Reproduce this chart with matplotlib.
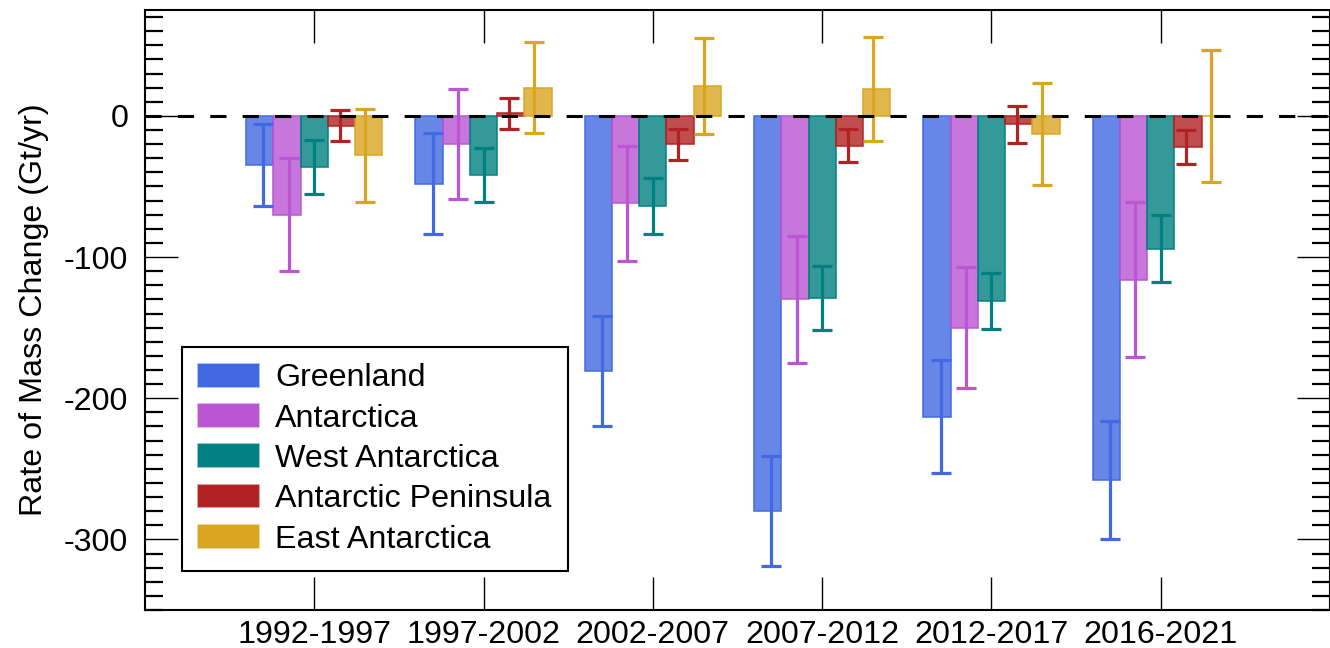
import matplotlib
matplotlib.use("Agg")
import matplotlib.pyplot as plt
from matplotlib.patches import Patch
from matplotlib.colors import to_rgba
from matplotlib.ticker import MultipleLocator
import numpy as np

plt.rcParams['font.family'] = ['Liberation Sans', 'DejaVu Sans']

# ─── DATA ───────────────────────────────────────────────────────────────────
periods = ['1992-1997', '1997-2002', '2002-2007', '2007-2012', '2012-2017', '2016-2021']
regions = ['Greenland', 'Antarctica', 'West Antarctica', 'Antarctic Peninsula', 'East Antarctica']

greenland      = [-35, -48, -181, -280, -213, -258]
greenland_err  = [29, 36, 39, 39, 40, 42]
antarctica     = [-70, -20, -62, -130, -150, -116]
antarctica_err = [40, 39, 41, 45, 43, 55]
west           = [-36, -42, -64, -129, -131, -94]
west_err       = [19, 19, 20, 23, 20, 24]
peninsula      = [-7, 2, -20, -21, -6, -22]
peninsula_err  = [11, 11, 11, 12, 13, 12]
east           = [-28, 20, 21, 19, -13, 0]
east_err       = [33, 32, 34, 37, 36, 47]

values = [greenland, antarctica, west, peninsula, east]
errors = [greenland_err, antarctica_err, west_err, peninsula_err, east_err]
colors = ['#4169E1', '#BA55D3', '#008080', '#B22222', '#DAA520']

# ─── PLOT ───────────────────────────────────────────────────────────────────
fig = plt.figure(figsize=(13.3, 6.48), dpi=100)
ax = fig.add_axes([0.109, 0.0586, 0.891, 0.926])

x = np.arange(len(periods))
bar_w = 0.161
err_step = 0.15

for i, (vals, errs, c) in enumerate(zip(values, errors, colors)):
    ax.bar(x + (i - 2) * bar_w, vals, width=bar_w,
           facecolor=to_rgba(c, 0.8), edgecolor=to_rgba(c, 0.9), linewidth=1.2, zorder=2)
    ax.errorbar(x + (i - 2) * err_step, vals, yerr=errs, fmt='none', ecolor=c,
                elinewidth=2.3, capsize=7.2, capthick=2.3, zorder=3)

ax.axhline(0, color='black', linewidth=2.2, linestyle=(0, (5.3, 5.3)), zorder=5)

ax.set_xlim(-1, 6)
ax.set_ylim(-350, 75)
ax.set_xticks(x)
ax.set_xticklabels(periods)
ax.yaxis.set_minor_locator(MultipleLocator(10))
ax.set_yticks([0, -100, -200, -300])
ax.set_yticklabels(['0', '-100', '-200', '-300'])

ax.tick_params(axis='both', which='major', direction='in', length=24, width=1.0,
               labelsize=23.2, top=True, right=True)
ax.tick_params(axis='y', which='major', pad=12)
ax.tick_params(axis='x', which='major', pad=7)
ax.tick_params(axis='y', which='minor', direction='in', length=13, width=1.6,
               left=True, right=True)
for s in ax.spines.values():
    s.set_linewidth(1.5)

ax.set_ylabel('Rate of Mass Change (Gt/yr)', fontsize=23.2, labelpad=11)

handles = [Patch(facecolor=c, edgecolor=to_rgba(c, 0.5), linewidth=1.2) for c in colors]
leg = ax.legend(handles, regions, loc='upper left', bbox_to_anchor=(0.031, 0.438),
                borderaxespad=0, fontsize=23.2, fancybox=False, framealpha=1,
                edgecolor='black', handlelength=1.9, handleheight=0.72,
                handletextpad=0.5, labelspacing=0.32, borderpad=0.5)
leg.get_frame().set_linewidth(1.5)

plt.savefig('out.png', dpi=100)
